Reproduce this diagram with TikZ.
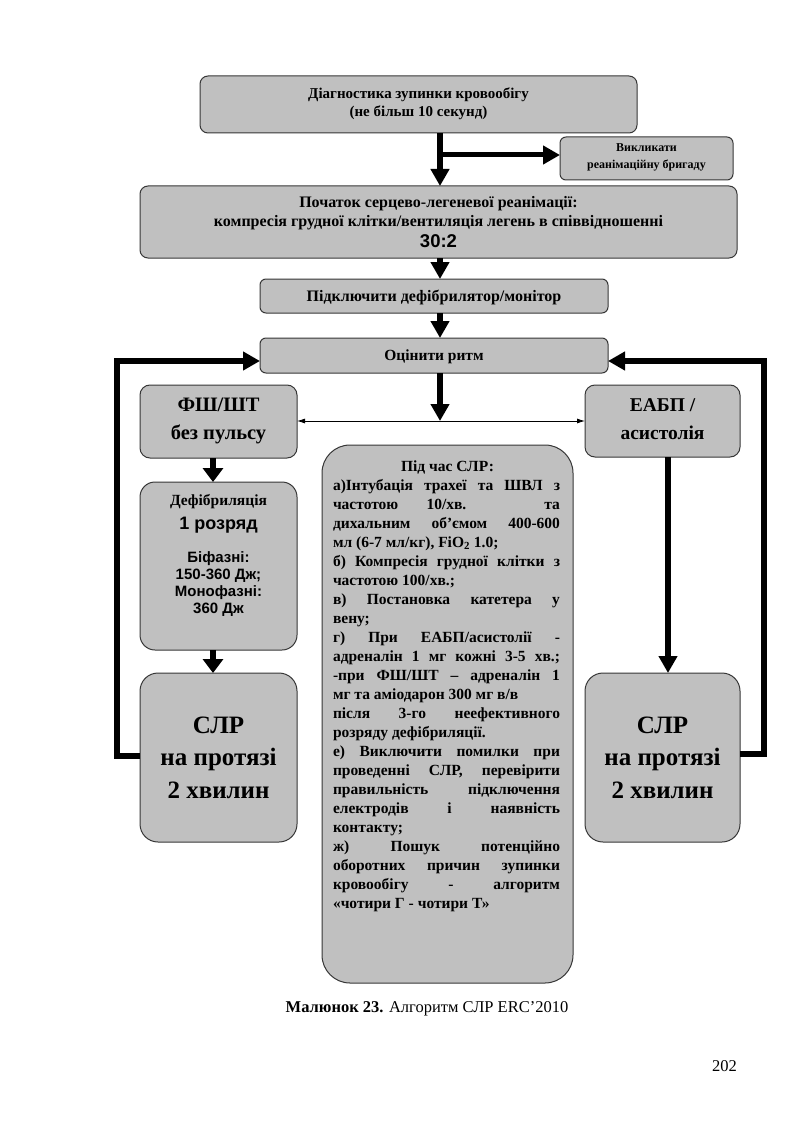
\documentclass[tikz,border=0pt]{standalone}
\usepackage{fontspec}
\setmainfont{Liberation Serif}
\newfontfamily\arialf{Liberation Sans}
\usetikzlibrary{arrows.meta}
\definecolor{boxgray}{RGB}{192,192,192}
\definecolor{boxline}{RGB}{55,55,55}
\newdimen\ctw \ctw=227pt
\newdimen\cti \cti=11pt
\newcommand\boxtext[3]{\vbox to #2{\offinterlineskip\hsize=#1\relax #3\vfil}}
\newcommand\Ln[2]{\kern#1\relax\hbox to\hsize{\hfil\smash{#2}\hfil}}
\newcommand\Jl[2]{\kern#1\relax\hbox to\hsize{\hskip\cti\smash{\hbox to\ctw{#2}}\hfil}}
\newcommand\Lf[2]{\kern#1\relax\hbox to\hsize{\hskip\cti\smash{#2}\hfil}}
\newcommand\arx[1]{{\arialf\fontsize{15}{15}\selectfont #1}}
\begin{document}
\begin{tikzpicture}[x=1pt,y=-1pt,
  box/.style={draw=boxline, line width=1pt, fill=boxgray, inner sep=0pt, outer sep=0pt,
    font=\bfseries\fontsize{15.5}{15.5}\selectfont},
  arr/.style={line width=6pt, draw=black, -{Triangle[width=18pt,length=17pt]}},
  arrS/.style={line width=6pt, draw=black, -{Triangle[width=20pt,length=14pt]}},
  thinarr/.style={line width=0.8pt, draw=black, {Latex[length=8pt,width=5pt]}-{Latex[length=8pt,width=5pt]}}
]
\useasboundingbox (0,0) rectangle (793,1123);

% boxes
\node[box, rounded corners=8pt, anchor=north west, font=\bfseries\fontsize{15}{15}\selectfont] (b1) at (200,76)
  {\boxtext{437pt}{57pt}{\Ln{23pt}{Діагностика зупинки кровообігу}\Ln{18pt}{(не більш 10 секунд)}}};
\node[box, rounded corners=6pt, anchor=north west, font=\bfseries\fontsize{12}{12}\selectfont] (call) at (560,137)
  {\boxtext{173pt}{43pt}{\Ln{14.5pt}{Викликати}\Ln{17.5pt}{реанімаційну бригаду}}};
\node[box, rounded corners=8pt, anchor=north west, font=\bfseries\fontsize{16}{16}\selectfont] (b2) at (140,186)
  {\boxtext{597pt}{72pt}{\Ln{21pt}{Початок серцево-легеневої реанімації:}\Ln{19pt}{компресія грудної клітки/вентиляція легень в співвідношенні}\Ln{22pt}{\arialf\fontsize{18.5}{18.5}\selectfont 30:2}}};
\node[box, rounded corners=6pt, anchor=north west, font=\bfseries\fontsize{16}{16}\selectfont] (b3) at (260,279)
  {\boxtext{348pt}{34pt}{\Ln{22pt}{Підключити дефібрилятор/монітор}}};
\node[box, rounded corners=6pt, anchor=north west] (b4) at (260,338)
  {\boxtext{348pt}{35pt}{\Ln{22pt}{Оцінити ритм}}};
\node[box, rounded corners=10pt, anchor=north west, font=\bfseries\fontsize{20.5}{20.5}\selectfont] (vf) at (140,385)
  {\boxtext{157pt}{73pt}{\Ln{26.5pt}{ФШ/ШТ}\Ln{28pt}{без пульсу}}};
\node[box, rounded corners=10pt, anchor=north west, font=\bfseries\fontsize{19.5}{19.5}\selectfont] (pea) at (585,385)
  {\boxtext{155pt}{72pt}{\Ln{26.5pt}{ЕАБП /}\Ln{28pt}{асистолія}}};
\node[box, rounded corners=15pt, anchor=north west] (defib) at (140,482)
  {\boxtext{157pt}{168pt}{\Ln{23.5pt}{Дефібриляція}\Ln{24pt}{\arialf\fontsize{18}{18}\selectfont 1 розряд}\Ln{32.5pt}{\arx{Біфазні:}}\Ln{17pt}{\arx{150-360 Дж;}}\Ln{17pt}{\arx{Монофазні:}}\Ln{17pt}{\arx{360 Дж}}}};
\node[box, rounded corners=18pt, anchor=north west, font=\bfseries\fontsize{25}{25}\selectfont] (cprL) at (140,673)
  {\boxtext{157pt}{169pt}{\Ln{60pt}{СЛР}\Ln{32pt}{на протязі}\Ln{33pt}{2 хвилин}}};
\node[box, rounded corners=18pt, anchor=north west, font=\bfseries\fontsize{25}{25}\selectfont] (cprR) at (585,673)
  {\boxtext{155pt}{169pt}{\Ln{60pt}{СЛР}\Ln{32pt}{на протязі}\Ln{33pt}{2 хвилин}}};
\node[box, rounded corners=28pt, anchor=north west, font=\bfseries\fontsize{15.5}{15.5}\selectfont] (mid) at (322,445)
  {\boxtext{251pt}{538pt}{%
    \Ln{26pt}{Під час СЛР:}%
    \Jl{19pt}{а)Інтубація трахеї та ШВЛ з}%
    \Jl{19pt}{частотою 10/хв. та}%
    \Jl{19pt}{дихальним об’ємом 400-600}%
    \Lf{19pt}{мл (6-7 мл/кг), FiO\textsubscript{2} 1.0;}%
    \Jl{19pt}{б) Компресія грудної клітки з}%
    \Lf{19pt}{частотою 100/хв.;}%
    \Jl{19pt}{в) Постановка катетера у}%
    \Lf{19pt}{вену;}%
    \Jl{19pt}{г) При ЕАБП/асистолії -}%
    \Jl{19pt}{адреналін 1 мг кожні 3-5 хв.;}%
    \Jl{19pt}{-при ФШ/ШТ – адреналін 1}%
    \Lf{19pt}{мг та аміодарон 300 мг в/в}%
    \Jl{19pt}{після 3-го неефективного}%
    \Lf{19pt}{розряду дефібриляції.}%
    \Jl{19pt}{е) Виключити помилки при}%
    \Jl{19pt}{проведенні СЛР, перевірити}%
    \Jl{19pt}{правильність підключення}%
    \Jl{19pt}{електродів і наявність}%
    \Lf{19pt}{контакту;}%
    \Jl{19pt}{ж) Пошук потенційно}%
    \Jl{19pt}{оборотних причин зупинки}%
    \Jl{19pt}{кровообігу - алгоритм}%
    \Lf{19pt}{«чотири Г - чотири Т»}}};

% caption and page number
\node[anchor=base, inner sep=0pt, font=\fontsize{16.5}{16.5}\selectfont] (cap) at (427,1012)
  {\textbf{Малюнок 23.} Алгоритм СЛР ERC’2010};
\node[anchor=base east, inner sep=0pt, font=\fontsize{16.5}{16.5}\selectfont] (pg) at (737,1071) {202};

% helper coordinates
\coordinate (ax) at (440,0);
\coordinate (brc) at (0,155);
\coordinate (mp) at (440,421);
\coordinate (lx) at (213,0);
\coordinate (rx) at (668,0);
\coordinate (loopL) at (117,756);
\coordinate (loopR) at (764,754);
\coordinate (lyin) at (0,361);

% connectors
\draw[arr] (ax |- b1.south) -- (ax |- b2.north);
\draw[arr, line width=5pt] (ax |- brc) -- (call.west |- brc);
\draw[arr] (ax |- b2.south) -- (ax |- b3.north);
\draw[arr] (ax |- b3.south) -- (ax |- b4.north);
\draw[thinarr] (vf.east |- mp) -- (pea.west |- mp);
\draw[arr] (ax |- b4.south) -- (mp);
\draw[arrS] (lx |- vf.south) -- (lx |- defib.north);
\draw[arrS] (lx |- defib.south) -- (lx |- cprL.north);
\draw[arr] (rx |- pea.south) -- (rx |- cprR.north);
\draw[arr] (cprL.west |- loopL) -- (loopL) |- (b4.west |- lyin);
\draw[arr] (cprR.east |- loopR) -- (loopR) |- (b4.east |- lyin);
\end{tikzpicture}
\end{document}
